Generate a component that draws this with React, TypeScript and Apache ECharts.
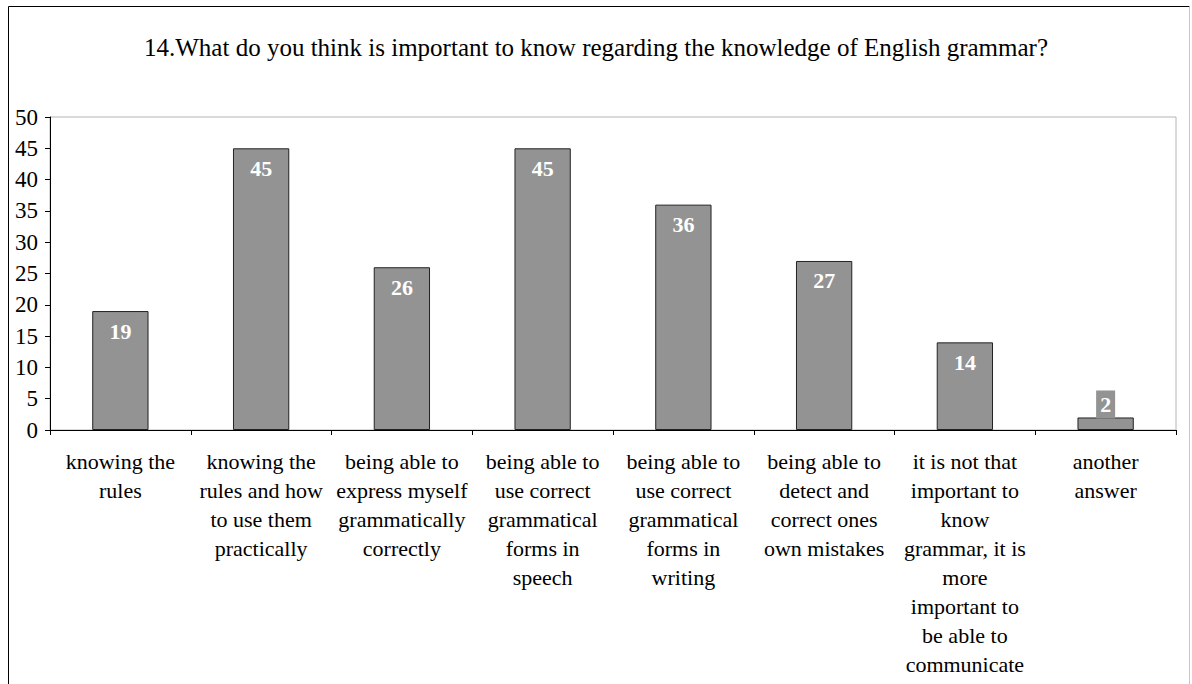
import React, { useEffect, useRef } from "react";
import * as echarts from "echarts";

const title = "14.What do you think is important to know regarding the knowledge of English grammar?";
const categories = [
  "knowing the\nrules",
  "knowing the\nrules and how\nto use them\npractically",
  "being able to\nexpress myself\ngrammatically\ncorrectly",
  "being able to\nuse correct\ngrammatical\nforms in\nspeech",
  "being able to\nuse correct\ngrammatical\nforms in\nwriting",
  "being able to\ndetect and\ncorrect ones\nown mistakes",
  "it is not that\nimportant to\nknow\ngrammar, it is\nmore\nimportant to\nbe able to\ncommunicate",
  "another\nanswer",
];
const values = [19, 45, 26, 45, 36, 27, 14, 2];
const yMin = 0;
const yMax = 50;
const yInterval = 5;

const FONT = "'Liberation Serif', 'Times New Roman', serif";
const BAR = "#939393";

export default function App() {
  const ref = useRef<HTMLDivElement>(null);
  useEffect(() => {
    if (!ref.current) return;
    const chart = echarts.init(ref.current, null, { renderer: "svg" });
    chart.setOption({
      animation: false,
      backgroundColor: "#ffffff",
      title: {
        text: title,
        left: "center",
        top: 30,
        textStyle: { fontFamily: FONT, fontSize: 25, fontWeight: "normal", color: "#000" },
      },
      graphic: [
        { type: "line", shape: { x1: 8.5, y1: 6.5, x2: 8.5, y2: 700 }, style: { stroke: "#000", lineWidth: 1 } },
        { type: "line", shape: { x1: 8.5, y1: 6.5, x2: 1189.5, y2: 6.5 }, style: { stroke: "#000", lineWidth: 1 } },
        { type: "line", shape: { x1: 1189.5, y1: 6.5, x2: 1189.5, y2: 700 }, style: { stroke: "#c8c8c8", lineWidth: 1 } },
      ],
      grid: {
        left: 50,
        right: 16,
        top: 117,
        bottom: 254,
        show: true,
        borderColor: "#b4b4b4",
        borderWidth: 1,
      },
      xAxis: {
        type: "category",
        data: categories,
        axisLine: { lineStyle: { color: "#000", width: 1 } },
        axisTick: { show: true, length: 5, lineStyle: { color: "#000" } },
        axisLabel: {
          interval: 0,
          fontFamily: FONT,
          fontSize: 22,
          color: "#000",
          lineHeight: 29,
          margin: 17,
          align: "center",
        },
      },
      yAxis: {
        type: "value",
        min: yMin,
        max: yMax,
        interval: yInterval,
        axisLine: { show: true, lineStyle: { color: "#000", width: 1 } },
        axisTick: { show: true, length: 5, lineStyle: { color: "#000" } },
        splitLine: { show: false },
        axisLabel: { fontFamily: FONT, fontSize: 23, color: "#000", margin: 12 },
      },
      series: [
        {
          type: "bar",
          barWidth: "40%",
          data: values.map((v, i) =>
            i === values.length - 1
              ? { value: v, label: { position: "top", distance: -1 } }
              : v
          ),
          itemStyle: { color: BAR, borderColor: "#222", borderWidth: 1 },
          label: {
            show: true,
            position: "insideTop",
            distance: 6,
            fontFamily: FONT,
            fontSize: 22,
            fontWeight: "bold",
            color: "#fff",
            backgroundColor: BAR,
            padding: [3, 4, 3, 4],
          },
        },
      ],
    });
    return () => chart.dispose();
  }, []);
  return (
    <div
      ref={ref}
      style={{ position: "fixed", left: 0, top: 0, width: 1192, height: 684 }}
    />
  );
}
